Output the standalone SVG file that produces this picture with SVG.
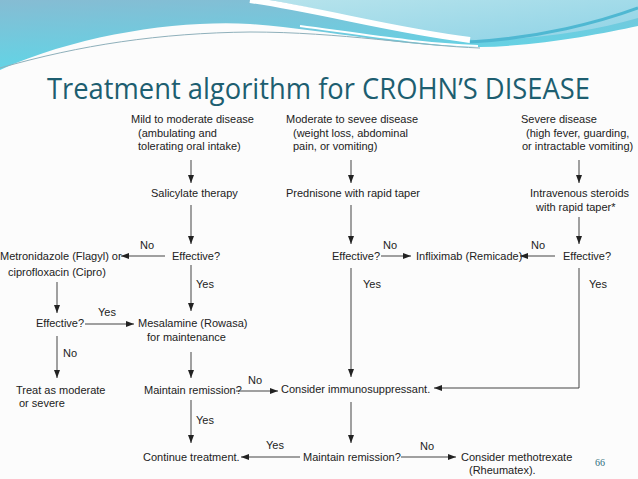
<svg xmlns="http://www.w3.org/2000/svg" width="638" height="479" viewBox="0 0 638 479">
<defs>
<linearGradient id="gBlue" x1="0" y1="0" x2="0.3" y2="1">
<stop offset="0" stop-color="#86bcd3"/>
<stop offset="1" stop-color="#5fd6e7"/>
</linearGradient>
<linearGradient id="gLight" x1="0" y1="0" x2="1" y2="1">
<stop offset="0" stop-color="#b6e3ec"/>
<stop offset="1" stop-color="#8fd3e6"/>
</linearGradient>
<marker id="ah" viewBox="0 0 8 6" refX="8" refY="3" markerWidth="8" markerHeight="6" markerUnits="userSpaceOnUse" orient="auto">
<path d="M0,0 L8,3 L0,6 Z" fill="#222"/>
</marker>
<style>
.t{font-family:"Liberation Sans",Arial,sans-serif;font-size:11px;fill:#222}
.a{stroke:#444;stroke-width:1;fill:none;marker-end:url(#ah)}
</style>
</defs>
<rect x="0" y="0" width="638" height="479" fill="#fcfcfc"/>
<g id="header">
<path d="M0,0 H638 V26 C600,34 540,46 480,47 C400,47 330,30 250,24 C180,20 80,34 0,70 Z" fill="url(#gBlue)"/>
<path d="M270,0 H638 V18 C590,32 530,40 475,40 C420,38 350,14 270,0 Z" fill="url(#gLight)"/>
<path d="M250,0 C320,10 390,30 470,40" stroke="#ffffff" stroke-width="6" fill="none"/>
<path d="M300,26 C360,34 420,44 478,46" stroke="#ffffff" stroke-width="2" fill="none"/>
<path d="M470,42 C540,38 600,22 638,8" stroke="#4fb8d2" stroke-width="3" fill="none"/>
<path d="M0,68 C80,45 160,33 250,32 C340,32 420,46 480,48" stroke="#8fb0bb" stroke-width="1" fill="none"/>
<text x="47" y="99" textLength="543" lengthAdjust="spacingAndGlyphs" font-family="'Open Sans','Liberation Sans',sans-serif" font-size="29" fill="#1d5e70">Treatment algorithm for CROHN’S DISEASE</text>
</g>
<g id="connectors">
<line class="a" x1="191" y1="160" x2="191" y2="183"/>
<line class="a" x1="191" y1="205" x2="191" y2="244"/>
<line class="a" x1="165" y1="256" x2="121" y2="256"/>
<line class="a" x1="57" y1="282" x2="57" y2="313"/>
<line class="a" x1="85" y1="324" x2="134" y2="324"/>
<line class="a" x1="191" y1="265" x2="191" y2="311"/>
<line class="a" x1="57" y1="336" x2="57" y2="378"/>
<line class="a" x1="191" y1="352" x2="191" y2="378"/>
<line class="a" x1="236" y1="391" x2="278" y2="391"/>
<line class="a" x1="191" y1="400" x2="191" y2="443"/>
<line class="a" x1="300" y1="457" x2="241" y2="457"/>
<line class="a" x1="351" y1="160" x2="351" y2="183"/>
<line class="a" x1="351" y1="205" x2="351" y2="244"/>
<line class="a" x1="381" y1="256" x2="411" y2="256"/>
<line class="a" x1="555" y1="256" x2="520" y2="256"/>
<line class="a" x1="351" y1="268" x2="351" y2="377"/>
<line class="a" x1="351" y1="402" x2="351" y2="443"/>
<line class="a" x1="401" y1="457" x2="456" y2="457"/>
<line class="a" x1="579" y1="160" x2="579" y2="183"/>
<line class="a" x1="579" y1="217" x2="579" y2="244"/>
<polyline class="a" points="579,268 579,388 434,388"/>
</g>
<g id="labels">
<text class="t" x="140" y="249">No</text>
<text class="t" x="196" y="288">Yes</text>
<text class="t" x="98" y="316">Yes</text>
<text class="t" x="63" y="357">No</text>
<text class="t" x="248" y="384">No</text>
<text class="t" x="196" y="424">Yes</text>
<text class="t" x="266" y="449">Yes</text>
<text class="t" x="420" y="450">No</text>
<text class="t" x="383" y="249">No</text>
<text class="t" x="531" y="249">No</text>
<text class="t" x="363" y="288">Yes</text>
<text class="t" x="589" y="288">Yes</text>
</g>
<g id="n-mild"><text class="t" x="131" y="123">Mild to moderate disease</text><text class="t" x="138" y="137">(ambulating and</text><text class="t" x="138" y="150">tolerating oral intake)</text></g>
<g id="n-moderate"><text class="t" x="286" y="123">Moderate to sevee disease</text><text class="t" x="293" y="137">(weight loss, abdominal</text><text class="t" x="293" y="150">pain, or vomiting)</text></g>
<g id="n-severe"><text class="t" x="521" y="123">Severe disease</text><text class="t" x="526" y="137">(high fever, guarding,</text><text class="t" x="522" y="150">or intractable vomiting)</text></g>
<g id="n-salicylate"><text class="t" x="151" y="197">Salicylate therapy</text></g>
<g id="n-prednisone"><text class="t" x="286" y="197">Prednisone with rapid taper</text></g>
<g id="n-iv"><text class="t" x="530" y="197">Intravenous steroids</text><text class="t" x="536" y="211">with rapid taper*</text></g>
<g id="n-eff1"><text class="t" x="172" y="260">Effective?</text></g>
<g id="n-metro"><text class="t" x="0" y="260">Metronidazole (Flagyl) or</text><text class="t" x="8" y="276">ciprofloxacin (Cipro)</text></g>
<g id="n-eff2"><text class="t" x="332" y="260">Effective?</text></g>
<g id="n-inflix"><text class="t" x="416" y="260">Infliximab (Remicade)</text></g>
<g id="n-eff3"><text class="t" x="563" y="260">Effective?</text></g>
<g id="n-eff4"><text class="t" x="36" y="327">Effective?</text></g>
<g id="n-mesal"><text class="t" x="138" y="327">Mesalamine (Rowasa)</text><text class="t" x="147" y="341">for maintenance</text></g>
<g id="n-treat"><text class="t" x="16" y="394">Treat as moderate</text><text class="t" x="19" y="407">or severe</text></g>
<g id="n-maint1"><text class="t" x="144" y="394">Maintain remission?</text></g>
<g id="n-immuno"><text class="t" x="281" y="393">Consider immunosuppressant.</text></g>
<g id="n-continue"><text class="t" x="143" y="461">Continue treatment.</text></g>
<g id="n-maint2"><text class="t" x="303" y="461">Maintain remission?</text></g>
<g id="n-metho"><text class="t" x="461" y="461">Consider methotrexate</text><text class="t" x="469" y="474">(Rheumatex).</text></g>
<text x="595" y="466" font-family="'Liberation Serif',serif" font-size="10" fill="#2f6f80">66</text>
</svg>
